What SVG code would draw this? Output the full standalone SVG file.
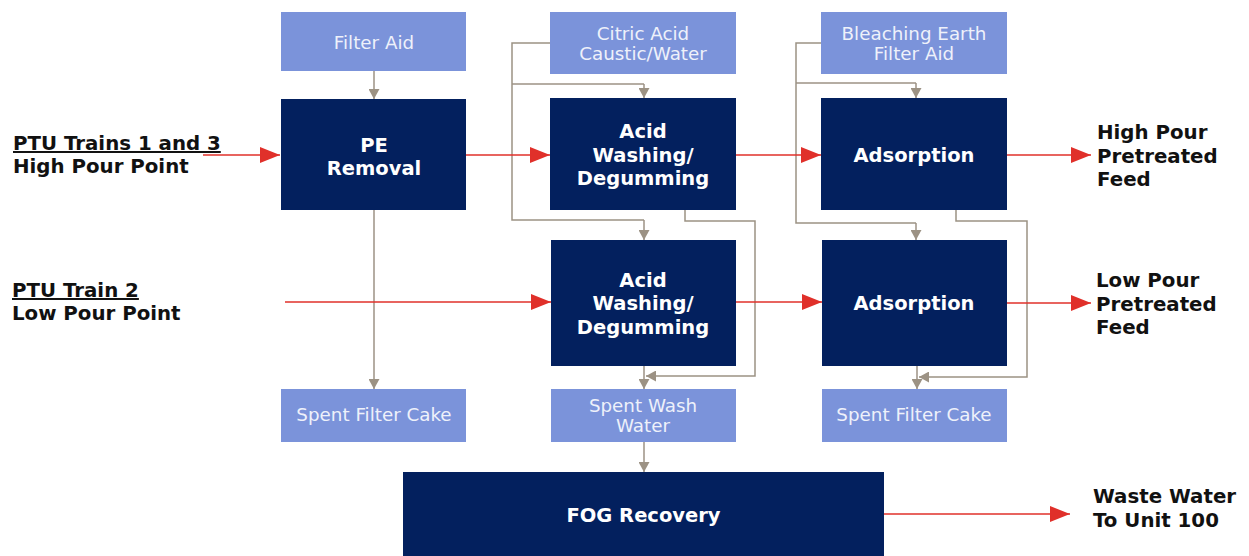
<svg xmlns="http://www.w3.org/2000/svg" width="1249" height="556" viewBox="0 0 1249 556">
<style>
.dk{fill:#03205e}
.lt{fill:#7b93da}
.bt{font-family:"DejaVu Sans",Verdana,sans-serif;font-weight:bold;font-size:19.5px;fill:#ffffff;text-anchor:middle}
.ltx{font-family:"DejaVu Sans",Verdana,sans-serif;font-size:18.3px;fill:#eef1fa;text-anchor:middle}
.lab{font-family:"DejaVu Sans",Verdana,sans-serif;font-weight:bold;font-size:19.8px;fill:#111111}
.red{stroke:#e0302a;stroke-width:1.6;fill:none;marker-end:url(#ra)}
.gr{stroke:#9c9284;stroke-width:1.5;fill:none}
.ga{marker-end:url(#ga)}
</style>
<defs>
<marker id="ra" markerUnits="userSpaceOnUse" markerWidth="20" markerHeight="16" refX="20" refY="8" orient="auto"><path d="M0,0 L20,8 L0,16 z" fill="#e0302a"/></marker>
<marker id="ga" markerUnits="userSpaceOnUse" markerWidth="11" markerHeight="11" refX="10" refY="5.5" orient="auto"><path d="M0,0 L10,5.5 L0,11 z" fill="#9c9284"/></marker>
</defs>
<rect width="1249" height="556" fill="#ffffff"/>
<g id="connectors">
<path class="gr ga" d="M374,71 V99"/>
<path class="gr ga" d="M374,210 V389"/>
<path class="gr" d="M550,43 H512 V220 H644"/>
<path class="gr ga" d="M644,220 V240"/>
<path class="gr" d="M512,84 H644"/>
<path class="gr ga" d="M644,84 V98"/>
<path class="gr ga" d="M685,210 V221 H755 V376 H646"/>
<path class="gr ga" d="M644,366 V389"/>
<path class="gr" d="M821,43 H796 V223 H916"/>
<path class="gr ga" d="M916,223 V240"/>
<path class="gr" d="M796,83 H916"/>
<path class="gr ga" d="M916,83 V98"/>
<path class="gr ga" d="M956,210 V221 H1027 V377 H919"/>
<path class="gr ga" d="M917,366 V389"/>
<path class="gr ga" d="M644,442 V472"/>
<path class="red" d="M203,155 H280"/>
<path class="red" d="M466,155 H550"/>
<path class="red" d="M736,155 H821"/>
<path class="red" d="M1007,155 H1091"/>
<path class="red" d="M285,302 H551"/>
<path class="red" d="M736,302 H822"/>
<path class="red" d="M1007,303 H1091"/>
<path class="red" d="M884,514 H1070"/>
</g>
<g id="filter-aid"><rect class="lt" x="281" y="12" width="185" height="59"/><text class="ltx" x="374" y="49">Filter Aid</text></g>
<g id="pe-removal"><rect class="dk" x="281" y="99" width="185" height="111"/><text class="bt" x="374" y="152">PE</text><text class="bt" x="374" y="175">Removal</text></g>
<g id="spent-filter-cake-1"><rect class="lt" x="281" y="389" width="185" height="53"/><text class="ltx" x="374" y="421">Spent Filter Cake</text></g>
<g id="citric-acid"><rect class="lt" x="550" y="12" width="186" height="62"/><text class="ltx" x="643" y="40">Citric Acid</text><text class="ltx" x="643" y="60">Caustic/Water</text></g>
<g id="acid-washing-1"><rect class="dk" x="550" y="98" width="186" height="112"/><text class="bt" x="643" y="138">Acid</text><text class="bt" x="643" y="162">Washing/</text><text class="bt" x="643" y="185">Degumming</text></g>
<g id="acid-washing-2"><rect class="dk" x="551" y="240" width="185" height="126"/><text class="bt" x="643" y="287">Acid</text><text class="bt" x="643" y="310">Washing/</text><text class="bt" x="643" y="334">Degumming</text></g>
<g id="spent-wash-water"><rect class="lt" x="551" y="389" width="185" height="53"/><text class="ltx" x="643" y="412">Spent Wash</text><text class="ltx" x="643" y="432">Water</text></g>
<g id="bleaching-earth"><rect class="lt" x="821" y="12" width="186" height="62"/><text class="ltx" x="914" y="40">Bleaching Earth</text><text class="ltx" x="914" y="60">Filter Aid</text></g>
<g id="adsorption-1"><rect class="dk" x="821" y="98" width="186" height="112"/><text class="bt" x="914" y="162">Adsorption</text></g>
<g id="adsorption-2"><rect class="dk" x="822" y="240" width="185" height="126"/><text class="bt" x="914" y="310">Adsorption</text></g>
<g id="spent-filter-cake-2"><rect class="lt" x="822" y="389" width="185" height="53"/><text class="ltx" x="914" y="421">Spent Filter Cake</text></g>
<g id="fog-recovery"><rect class="dk" x="403" y="472" width="481" height="84"/><text class="bt" x="643.5" y="522">FOG Recovery</text></g>
<g id="label-ptu-13"><text class="lab" x="13" y="150" text-decoration="underline">PTU Trains 1 and 3</text><text class="lab" x="13" y="173">High Pour Point</text></g>
<g id="label-ptu-2"><text class="lab" x="12" y="297" text-decoration="underline">PTU Train 2</text><text class="lab" x="12" y="320">Low Pour Point</text></g>
<g id="label-high-pour"><text class="lab" x="1097" y="139">High Pour</text><text class="lab" x="1097" y="163">Pretreated</text><text class="lab" x="1097" y="186">Feed</text></g>
<g id="label-low-pour"><text class="lab" x="1096" y="287">Low Pour</text><text class="lab" x="1096" y="311">Pretreated</text><text class="lab" x="1096" y="334">Feed</text></g>
<g id="label-waste-water"><text class="lab" x="1093" y="503">Waste Water</text><text class="lab" x="1093" y="527">To Unit 100</text></g>
</svg>
